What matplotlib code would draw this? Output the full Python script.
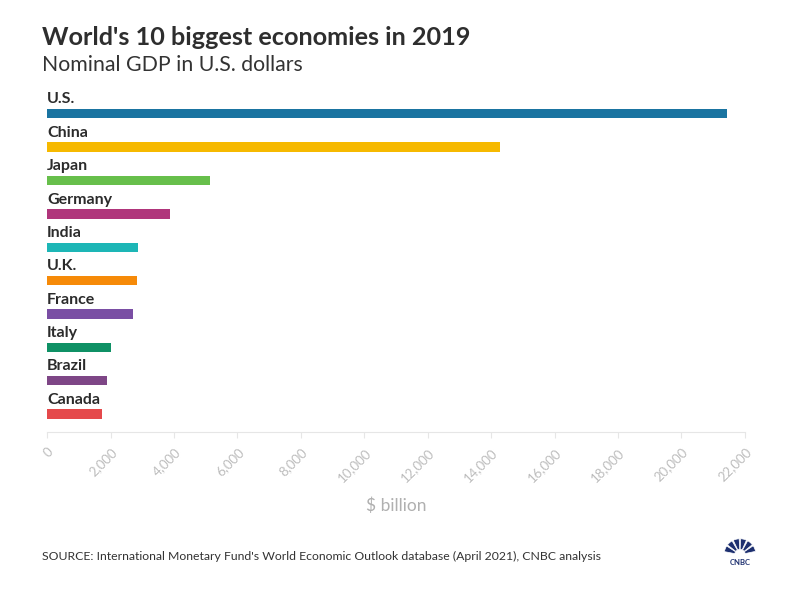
import matplotlib
matplotlib.use('Agg')
import matplotlib.pyplot as plt
from matplotlib.patches import Wedge

countries = ['U.S.', 'China', 'Japan', 'Germany', 'India', 'U.K.', 'France', 'Italy', 'Brazil', 'Canada']
gdp = [21433, 14280, 5148, 3861, 2869, 2831, 2716, 2004, 1877, 1742]
colors = ['#1a74a1', '#f6b900', '#67bf4b', '#b0357b', '#1db6b6', '#f68a08',
          '#7a4ea4', '#0f9165', '#7e4686', '#e5494b']
ticks = list(range(0, 22001, 2000))

plt.rcParams['font.family'] = ['Lato', 'DejaVu Sans']

fig = plt.figure(figsize=(8, 6), dpi=100)
ax = fig.add_axes([0.059, 0.28, 0.872, 0.562])

ypos = list(range(len(countries)))
ax.barh(ypos, gdp, height=0.28, color=colors)
for y, name in zip(ypos, countries):
    ax.text(0, y - 0.22, name, ha='left', va='bottom', fontsize=11.5,
            fontweight='bold', color='#2b2b2b')

ax.set_ylim(9.54, -0.57)
ax.set_xlim(0, 22000)
ax.set_yticks([])
ax.set_xticks(ticks)
ax.set_xticklabels([f'{t:,}' for t in ticks], rotation=45, ha='right',
                   rotation_mode='anchor', fontsize=9.5, color='#bdbdbd')
ax.tick_params(axis='x', length=4, color='#e6e6e6', pad=6)
for s in ['top', 'right', 'left']:
    ax.spines[s].set_visible(False)
ax.spines['bottom'].set_color('#e6e6e6')
ax.set_xlabel('$ billion', fontsize=12.5, color='#b0b0b0', labelpad=10)

fig.text(0.052, 0.938, "World's 10 biggest economies in 2019", fontsize=18.2,
         fontweight='bold', color='#2e2e2e', va='center')
fig.text(0.052, 0.891, 'Nominal GDP in U.S. dollars', fontsize=15.3,
         color='#333333', va='center')
fig.text(0.052, 0.073, "SOURCE: International Monetary Fund's World Economic Outlook database (April 2021), CNBC analysis",
         fontsize=8.8, color='#333333', va='center')

# small CNBC mark
lg = fig.add_axes([0.9, 0.055, 0.05, 0.05])
lg.set_xlim(-1, 1)
lg.set_ylim(-0.6, 1.1)
lg.set_aspect('equal')
lg.axis('off')
for k in range(6):
    a0 = 12 + k * 27
    lg.add_patch(Wedge((0, 0.1), 0.9, a0, a0 + 22, width=0.6,
                       facecolor='#1d2f6f', edgecolor='white', linewidth=0.5))
lg.text(0, -0.35, 'CNBC', ha='center', va='center', fontsize=5.5,
        fontweight='bold', color='#1d2f6f')

fig.savefig('out.png', dpi=100, facecolor='white')
